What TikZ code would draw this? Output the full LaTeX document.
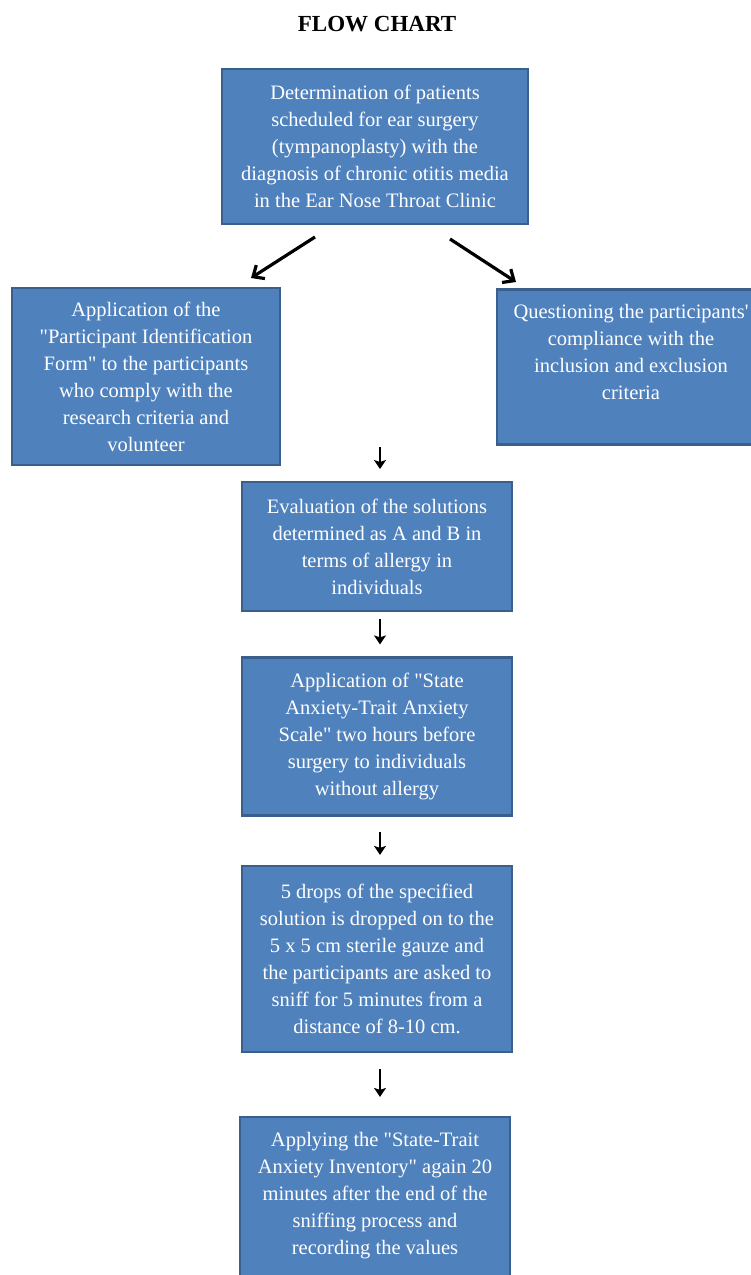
\documentclass[tikz,border=0pt]{standalone}
\usepackage{fontspec}
\setmainfont{Liberation Serif}[Ligatures=TeXOff]
\usetikzlibrary{arrows.meta}
\definecolor{boxblue}{RGB}{79,129,189}
\definecolor{boxedge}{RGB}{58,95,140}
\tikzset{
  flowbox/.style={rectangle, fill=boxblue, draw=boxedge, line width=2.2pt, text=white, align=center, inner sep=0pt,
    font=\fontsize{20.5}{27}\selectfont},
  boxtext/.style={text=white, align=center, inner sep=0pt, font=\fontsize{20.5}{27}\selectfont},
  diagarrow/.style={line width=3.2pt, black, -{Straight Barb[length=9pt,width=16pt,line width=3.2pt]}},
  downarrow/.style={line width=2.8pt, black, -{Stealth[length=9pt,width=12pt,inset=2pt]}},
  titletext/.style={font=\fontsize{23}{27}\selectfont\bfseries, inner sep=0pt}
}
\begin{document}
\begin{tikzpicture}[x=1pt,y=-1pt]
\useasboundingbox (0,0) rectangle (751,1275);
\clip (0,0) rectangle (751,1275);
\fill[white] (0,0) rectangle (751,1275);

\node[titletext] (title) at (377,24) {FLOW CHART};

\node[flowbox, minimum width=306pt, minimum height=155pt] (b1) at (375,146.5)
  {Determination of patients\\scheduled for ear surgery\\(tympanoplasty) with the\\diagnosis of chronic otitis media\\in the Ear Nose Throat Clinic};

\node[flowbox, minimum width=268pt, minimum height=177pt] (b2) at (146,376.5)
  {Application of the\\"Participant Identification\\Form" to the participants\\who comply with the\\research criteria and\\volunteer};

\node[flowbox, minimum width=268pt, minimum height=155pt] (b3) at (631,367) {};
\node[boxtext] (t3) at (631,352)
  {Questioning the participants'\\compliance with the\\inclusion and exclusion\\criteria};

\node[flowbox, minimum width=270pt, minimum height=129pt] (b4) at (377,546.5)
  {Evaluation of the solutions\\determined as A and B in\\terms of allergy in\\individuals};

\node[flowbox, minimum width=270pt, minimum height=158pt] (b5) at (377,736.5)
  {Application of "State\\Anxiety-Trait Anxiety\\Scale" two hours before\\surgery to individuals\\without allergy};

\node[flowbox, minimum width=270pt, minimum height=186pt] (b6) at (377,959)
  {5 drops of the specified\\solution is dropped on to the\\5 x 5 cm sterile gauze and\\the participants are asked to\\sniff for 5 minutes from a\\distance of 8-10 cm.};

\node[flowbox, minimum width=270pt, minimum height=180pt] (b7) at (375,1207) {};
\node[boxtext] (t7) at (375,1196)
  {Applying the "State-Trait\\Anxiety Inventory" again 20\\minutes after the end of the\\sniffing process and\\recording the values};

\coordinate (l1) at (315,237);
\coordinate (l2) at (251,278);
\coordinate (r1) at (450,239);
\coordinate (r2) at (516,282);
\coordinate (d1s) at (380,447);
\coordinate (d1e) at (380,469);

\draw[diagarrow] (l1) -- (l2);
\draw[diagarrow] (r1) -- (r2);
\draw[downarrow] (d1s) -- (d1e);
\draw[downarrow, shorten <=7pt, shorten >=12pt] ([xshift=3pt]b4.south) -- ([xshift=3pt]b5.north);
\draw[downarrow, shorten <=15pt, shorten >=10pt] ([xshift=3pt]b5.south) -- ([xshift=3pt]b6.north);
\draw[downarrow, shorten <=16pt, shorten >=19pt] ([xshift=3pt]b6.south) -- ([xshift=5pt]b7.north);
\end{tikzpicture}
\end{document}
